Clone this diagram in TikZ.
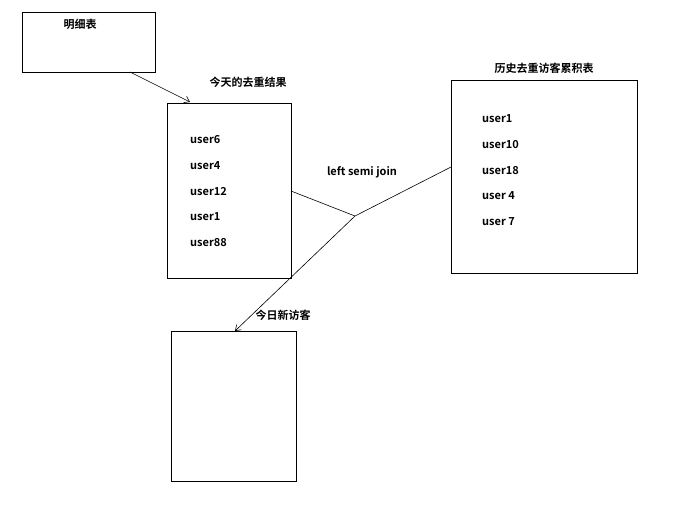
\documentclass[tikz,border=0pt]{standalone}
\usepackage{fontspec}
\setmainfont{Noto Sans CJK SC}[BoldFont={Noto Sans CJK SC Bold}]
\usetikzlibrary{arrows.meta}
\begin{document}
\begin{tikzpicture}[x=1pt,y=-1pt,
  box/.style={draw,line width=0.9pt,inner sep=0},
  lbl/.style={font=\bfseries\fontsize{11}{13}\selectfont,inner sep=0},
  list/.style={font=\bfseries\fontsize{11}{13}\selectfont,inner sep=0,anchor=west},
  conn/.style={line width=0.6pt,-{Straight Barb[length=5pt,width=7pt]}}]
\useasboundingbox (0,0) rectangle (679,507);
\draw[box] (22,12) rectangle (155,72);
\coordinate (b1s) at (130,72);
\node[lbl] (t1) at (80,24) {明细表};
\draw[box] (167,103) rectangle (291,278);
\node[lbl] (t2) at (248,82) {今天的去重结果};
\foreach \t [count=\i] in {user6,user4,user12,user1,user88}
  \node[list] (a\i) at (190,{140+25.7*(\i-1)}) {\t};
\draw[box] (451,80) rectangle (637,273);
\node[lbl] (t3) at (544,68) {历史去重访客累积表};
\foreach \t [count=\i] in {user1,user10,user18,user 4,user 7}
  \node[list] (b\i) at (482,{119+25.7*(\i-1)}) {\t};
\draw[box] (171,331) rectangle (296,481);
\node[lbl] (t4) at (283,315) {今日新访客};
\node[lbl] (lj) at (362,172) {left semi join};
\coordinate (top2) at (190,102);
\coordinate (r2) at (291,191);
\coordinate (l3) at (451,167);
\coordinate (j) at (355,216);
\coordinate (top4) at (235,331);
\draw[conn] (b1s) -- (top2);
\draw[line width=0.6pt] (r2) -- (j) -- (l3);
\draw[conn] (j) -- (top4);
\end{tikzpicture}
\end{document}
